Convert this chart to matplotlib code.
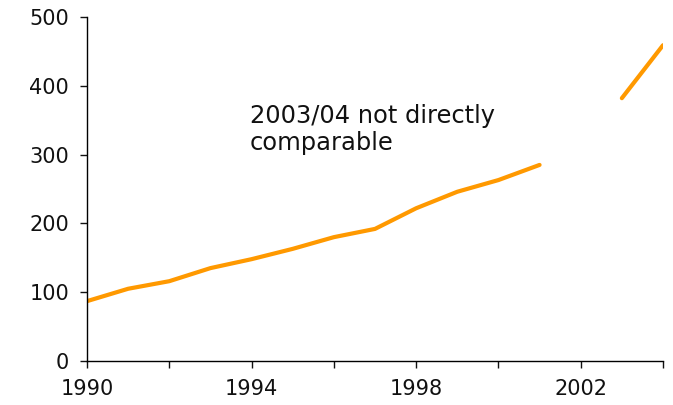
import matplotlib
matplotlib.use("Agg")
import matplotlib.pyplot as plt
import numpy as np

years1 = [1990, 1991, 1992, 1993, 1994, 1995, 1996, 1997, 1998, 1999, 2000, 2001]
values1 = [87, 105, 116, 135, 148, 163, 180, 192, 222, 246, 263, 285]
years2 = [2003, 2004]
values2 = [382, 459]
xticks = [1990, 1992, 1994, 1996, 1998, 2000, 2002, 2004]
xlabels = ["1990", "", "1994", "", "1998", "", "2002", ""]
yticks = [0, 100, 200, 300, 400, 500]
note = "2003/04 not directly\ncomparable"

plt.rcParams['font.family'] = ['DejaVu Sans']
fig = plt.figure(figsize=(6.73, 4.05), dpi=100)
ax = fig.add_axes([87/673, 44/405, (663-87)/673, (361-17)/405])
color = "#FF9900"
ax.plot(years1, values1, color=color, lw=3, solid_capstyle='round', solid_joinstyle='round')
ax.plot(years2, values2, color=color, lw=3, solid_capstyle='round', solid_joinstyle='round')
ax.set_xlim(1990, 2004)
ax.set_ylim(0, 500)
ax.set_xticks(xticks)
ax.set_xticklabels(xlabels)
ax.set_yticks(yticks)
for s in ['top', 'right']:
    ax.spines[s].set_visible(False)
for s in ['left', 'bottom']:
    ax.spines[s].set_linewidth(1.0)
ax.tick_params(axis='both', direction='out', length=5, width=1, labelsize=15, colors='#111111')
ax.tick_params(axis='x', pad=8)
ax.tick_params(axis='y', pad=8)
ax.text(1993.96, 373, note, fontsize=17.4, va='top', ha='left', linespacing=1.12,
        color='#111111')
fig.savefig("out.png", dpi=100)
